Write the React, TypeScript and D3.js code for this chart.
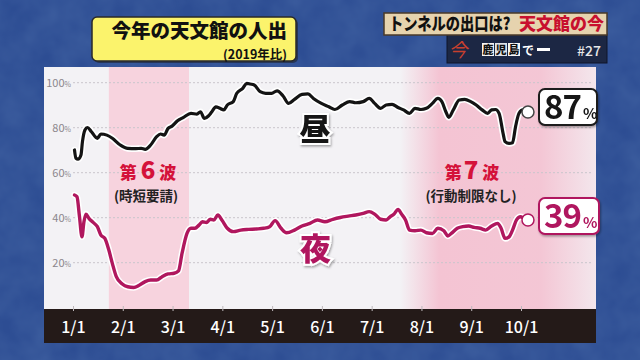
import React from "react";
import * as d3 from "d3";

const monthLabels = ["1/1", "2/1", "3/1", "4/1", "5/1", "6/1", "7/1", "8/1", "9/1", "10/1"];
const yTicks = [20, 40, 60, 80, 100];

// 昼 (daytime) : position in months since 1/1, value in % of 2019
const dayPos = [0.02, 0.05, 0.09, 0.15, 0.18, 0.23, 0.28, 0.36, 0.48, 0.55, 0.67, 0.78, 0.94, 1.09, 1.25, 1.36, 1.44, 1.55, 1.67, 1.75, 1.82, 1.9, 1.98, 2.09, 2.21, 2.36, 2.48, 2.55, 2.63, 2.71, 2.78, 2.86, 2.94, 3.02, 3.09, 3.21, 3.28, 3.4, 3.48, 3.55, 3.63, 3.75, 3.86, 3.98, 4.09, 4.21, 4.32, 4.44, 4.59, 4.71, 4.82, 4.98, 5.13, 5.25, 5.4, 5.55, 5.67, 5.82, 5.94, 6.05, 6.17, 6.28, 6.4, 6.52, 6.63, 6.75, 6.86, 6.98, 7.09, 7.21, 7.32, 7.4, 7.48, 7.54, 7.63, 7.75, 7.86, 7.98, 8.09, 8.21, 8.32, 8.4, 8.48, 8.55, 8.63, 8.67, 8.75, 8.82, 8.88, 8.95, 9.03, 9.13];
const dayVal = [70.1, 66.4, 66, 67.9, 73.8, 79, 80.1, 78.2, 75.3, 77.2, 76.7, 75.3, 72.3, 70.8, 70.7, 70.8, 70.4, 72.3, 76, 77.2, 76.7, 79.7, 80.7, 83.1, 84.6, 86.4, 86, 87.1, 84.1, 85.2, 87.1, 89.3, 88.6, 87.9, 90.1, 91.6, 95.3, 97.5, 99.7, 99.4, 99, 96, 95.3, 95.3, 96.4, 94.1, 90.8, 92.6, 94.8, 95, 93, 90.8, 89.3, 88.1, 90.1, 91.6, 91.1, 91.6, 93, 90.8, 88.6, 90.1, 90.4, 89, 87.9, 86.4, 88.6, 88.1, 88.6, 90.8, 93, 91.6, 87.1, 84.6, 87.9, 92.3, 92.6, 91.6, 90.1, 87.9, 86.4, 87.9, 88.1, 86.4, 77.5, 73.8, 73, 73.3, 80.4, 86.4, 87.9, 87];

// 夜 (night)
const nightPos = [0.02, 0.07, 0.12, 0.17, 0.21, 0.25, 0.31, 0.4, 0.48, 0.55, 0.63, 0.71, 0.78, 0.86, 0.98, 1.09, 1.21, 1.32, 1.44, 1.55, 1.67, 1.78, 1.9, 2.02, 2.11, 2.18, 2.28, 2.36, 2.44, 2.52, 2.59, 2.67, 2.75, 2.82, 2.9, 2.98, 3.09, 3.21, 3.36, 3.52, 3.67, 3.82, 3.94, 4.05, 4.17, 4.28, 4.44, 4.59, 4.75, 4.9, 5.05, 5.21, 5.36, 5.52, 5.67, 5.82, 5.94, 6.05, 6.17, 6.28, 6.36, 6.44, 6.52, 6.59, 6.67, 6.75, 6.86, 6.98, 7.09, 7.21, 7.32, 7.44, 7.52, 7.59, 7.71, 7.82, 7.94, 8.05, 8.17, 8.28, 8.4, 8.52, 8.59, 8.67, 8.75, 8.82, 8.9, 8.98, 9.05, 9.13];
const nightVal = [50.1, 49.3, 40.5, 31.5, 38.2, 41.6, 39.7, 37.8, 36, 32.3, 30.8, 25.6, 19.7, 13.8, 10.5, 9.3, 9, 10, 11.6, 12.3, 12.3, 13.8, 15, 15.3, 16.4, 24.1, 33, 35.3, 35.3, 36.7, 38.2, 37.9, 39.3, 39, 41.2, 39, 35.3, 33.8, 34.5, 34.8, 35, 35.3, 36, 38.7, 35.3, 33.3, 34.5, 36.3, 37.5, 39, 38.2, 39.3, 40.1, 40.7, 41.2, 41.9, 42.7, 41.6, 39.3, 39, 40.4, 41.6, 43.7, 41.6, 39, 34.5, 34.2, 34.5, 33.3, 33, 35.3, 34.2, 31.9, 33, 35.3, 36, 36.3, 35.7, 35.3, 34.5, 36.3, 37.5, 35.3, 30.8, 31.5, 34.5, 39, 40.4, 39.7, 39];

const wave6 = [0.71, 2.32];
const wave7Start = 6.56;
const endDay = "87";
const endNight = "39";

const JP = "'Noto Sans CJK JP', 'Noto Sans', sans-serif";
const NIGHT = "#b0175e";
const RED = "#d4123a";

export default function App() {
  const x = d3.scaleLinear().domain([0, 9]).range([73.5, 521.5]);
  const y = d3.scaleLinear().domain([0, 100]).range([307.7, 82.7]);
  const line = d3
    .line<[number, number]>()
    .x((d) => x(d[0]))
    .y((d) => y(d[1]))
    .curve(d3.curveMonotoneX);
  const dayData: [number, number][] = dayPos.map((p, i) => [p, dayVal[i]]);
  const nightData: [number, number][] = nightPos.map((p, i) => [p, nightVal[i]]);
  const dayEnd = dayData[dayData.length - 1];
  const nightEnd = nightData[nightData.length - 1];
  const panelL = 44, panelR = 596, panelT = 67, panelB = 309;

  return (
    <svg width={640} height={360} style={{ position: "absolute", left: 0, top: 0, display: "block" }}>
      <defs>
        <filter id="tex" x="0" y="0" width="100%" height="100%">
          <feTurbulence type="fractalNoise" baseFrequency="0.035" numOctaves="3" seed="4" />
          <feColorMatrix type="matrix" values="0 0 0 0 0.1  0 0 0 0 0.2  0 0 0 0 0.45  0 0 0 0.9 -0.15" />
        </filter>
        <linearGradient id="w7" gradientUnits="userSpaceOnUse" x1={x(wave7Start)} x2={panelR} y1={0} y2={0}>
          <stop offset="0" stopColor="#f4c4d3" stopOpacity={0} />
          <stop offset="0.2" stopColor="#f4c4d3" stopOpacity={1} />
          <stop offset="0.72" stopColor="#f4c4d3" stopOpacity={0.95} />
          <stop offset="1" stopColor="#f4c4d3" stopOpacity={0.25} />
        </linearGradient>
        <filter id="shadow" x="-20%" y="-20%" width="140%" height="140%">
          <feDropShadow dx="1" dy="1.5" stdDeviation="0.8" floodColor="#000" floodOpacity="0.35" />
        </filter>
      </defs>

      {/* background */}
      <rect x={0} y={0} width={640} height={360} fill="#2d4d93" />
      <rect x={0} y={0} width={640} height={360} filter="url(#tex)" opacity={0.5} />

      {/* plot panel */}
      <rect x={panelL} y={panelT} width={panelR - panelL} height={panelB - panelT} fill="#f3f2f5" />
      <rect x={x(wave6[0])} y={panelT} width={x(wave6[1]) - x(wave6[0])} height={panelB - panelT} fill="#f7d3de" />
      <rect x={x(wave7Start)} y={panelT} width={panelR - x(wave7Start)} height={panelB - panelT} fill="url(#w7)" />

      {/* grid + y labels */}
      {yTicks.map((t) => (
        <g key={t}>
          <line x1={73} x2={591} y1={y(t)} y2={y(t)} stroke="#c9c6cc" strokeWidth={1} strokeDasharray="2,2" />
          <text x={71} y={y(t)} dy="0.35em" textAnchor="end" fill="#8b878c" fontFamily={JP} fontSize={11}>
            {t}
            <tspan fontSize={7}>%</tspan>
          </text>
        </g>
      ))}

      {/* x axis bar */}
      <rect x={panelL} y={panelB} width={panelR - panelL} height={34} fill="#241a18" />
      {monthLabels.map((m, i) => (
        <g key={m}>
          <line x1={x(i)} x2={x(i)} y1={panelB - 3} y2={panelB + 2} stroke="#bdb8bb" strokeWidth={1} />
          <text x={x(i)} y={333} textAnchor="middle" fill="#ffffff" fontFamily={JP} fontSize={16} fontWeight={500}>
            {m}
          </text>
        </g>
      ))}

      {/* wave labels */}
      <text x={148} y={179} textAnchor="middle" fontFamily={JP} fontWeight={900} fill={RED} fontSize={17}>
        第<tspan fontSize={24} dx={4}>6</tspan><tspan dx={4}>波</tspan>
      </text>
      <text x={146} y={201} textAnchor="middle" fontFamily={JP} fontWeight={700} fill="#222" fontSize={13.5}>
        (時短要請)
      </text>
      <text x={472} y={179} textAnchor="middle" fontFamily={JP} fontWeight={900} fill={RED} fontSize={17}>
        第<tspan fontSize={24} dx={2}>7</tspan><tspan dx={4}>波</tspan>
      </text>
      <text x={471} y={201} textAnchor="middle" fontFamily={JP} fontWeight={700} fill="#222" fontSize={13.5}>
        (行動制限なし)
      </text>

      {/* lines */}
      <path d={line(dayData) || ""} fill="none" stroke="#ffffff" strokeWidth={6.5} strokeLinejoin="round" strokeLinecap="round" />
      <path d={line(dayData) || ""} fill="none" stroke="#141414" strokeWidth={3.2} strokeLinejoin="round" strokeLinecap="round" />
      <path d={line(nightData) || ""} fill="none" stroke="#ffffff" strokeWidth={6.5} strokeLinejoin="round" strokeLinecap="round" />
      <path d={line(nightData) || ""} fill="none" stroke={NIGHT} strokeWidth={3.4} strokeLinejoin="round" strokeLinecap="round" />

      <circle cx={x(dayEnd[0])} cy={y(dayEnd[1])} r={6} fill="#fff" stroke="#444" strokeWidth={1.5} />
      <circle cx={x(nightEnd[0])} cy={y(nightEnd[1])} r={6} fill="#fff" stroke={NIGHT} strokeWidth={1.5} />

      {/* series labels */}
      <text x={x(4.85)} y={y(79.7)} dy="0.38em" textAnchor="middle" fontFamily={JP} fontWeight={900} fontSize={31}
        fill="#141414" stroke="#fff" strokeWidth={4} paintOrder="stroke" filter="url(#shadow)">
        昼
      </text>
      <text x={x(4.86)} y={y(26.4)} dy="0.38em" textAnchor="middle" fontFamily={JP} fontWeight={900} fontSize={31}
        fill={NIGHT} stroke="#fff" strokeWidth={4} paintOrder="stroke" filter="url(#shadow)">
        夜
      </text>

      {/* end value boxes */}
      <g filter="url(#shadow)">
        <rect x={539} y={y(dayEnd[1]) - 23} width={58} height={36} rx={6} fill="#fff" stroke="#1a1a1a" strokeWidth={2} />
        <text x={544} y={y(dayEnd[1]) + 7} fontFamily={JP} fontWeight={700} fontSize={33} fill="#141414" letterSpacing={-1}>
          {endDay}
          <tspan fontSize={15} dx={2}>%</tspan>
        </text>
        <rect x={539} y={y(nightEnd[1]) - 22} width={60} height={36} rx={6} fill="#fff" stroke={NIGHT} strokeWidth={2} />
        <text x={544} y={y(nightEnd[1]) + 8} fontFamily={JP} fontWeight={700} fontSize={33} fill={NIGHT} letterSpacing={-1}>
          {endNight}
          <tspan fontSize={15} dx={2}>%</tspan>
        </text>
      </g>

      {/* title box */}
      <rect x={94} y={19} width={204} height={44} rx={5} fill="#1a1a1a" opacity={0.5} />
      <rect x={92} y={17} width={204} height={44} rx={5} fill="#fbf36c" stroke="#2a2a2a" strokeWidth={1.5} />
      <text x={287} y={37.5} textAnchor="end" fontFamily={JP} fontWeight={900} fontSize={19.5} fill="#111">
        今年の天文館の人出
      </text>
      <text x={287} y={58.5} textAnchor="end" fontFamily={JP} fontWeight={700} fontSize={12.5} fill="#111">
        (2019年比)
      </text>

      {/* program banner */}
      <rect x={447} y={34} width={160} height={29} fill="#1c2744" stroke="#0e1428" strokeWidth={1} />
      <rect x={384} y={13} width={223} height={22} fill="#e6d3ae" stroke="#4a3a28" strokeWidth={1.5} />
      <text transform="translate(389,30) scale(0.84,1)" fontFamily={JP} fontWeight={900} fontSize={17} fill="#111">
        トンネルの出口は?
      </text>
      <text x={604} y={30} textAnchor="end" fontFamily={JP} fontWeight={900} fontSize={17} fill="#c8102e">
        天文館の今
      </text>
      <text x={458} y={57} textAnchor="middle" fontFamily={JP} fontWeight={400} fontSize={19} fill="#c8402e" fontStyle="italic">
        今
      </text>
      {["鹿", "児", "島"].map((c, i) => (
        <g key={c}>
          <rect x={482 + i * 13} y={43} width={12} height={13} fill={i === 1 ? "#dfe3ea" : "#f5f5f5"} />
          <text x={488 + i * 13} y={54} textAnchor="middle" fontFamily={JP} fontWeight={900} fontSize={11} fill="#111">
            {c}
          </text>
        </g>
      ))}
      <text x={528} y={55} textAnchor="middle" fontFamily={JP} fontWeight={700} fontSize={12} fill="#fff">で</text>
      <rect x={537} y={48} width={13} height={3} fill="#fff" />
      <text x={601} y={56} textAnchor="end" fontFamily={JP} fontWeight={500} fontSize={14} fill="#e8e8e8">#27</text>
    </svg>
  );
}
